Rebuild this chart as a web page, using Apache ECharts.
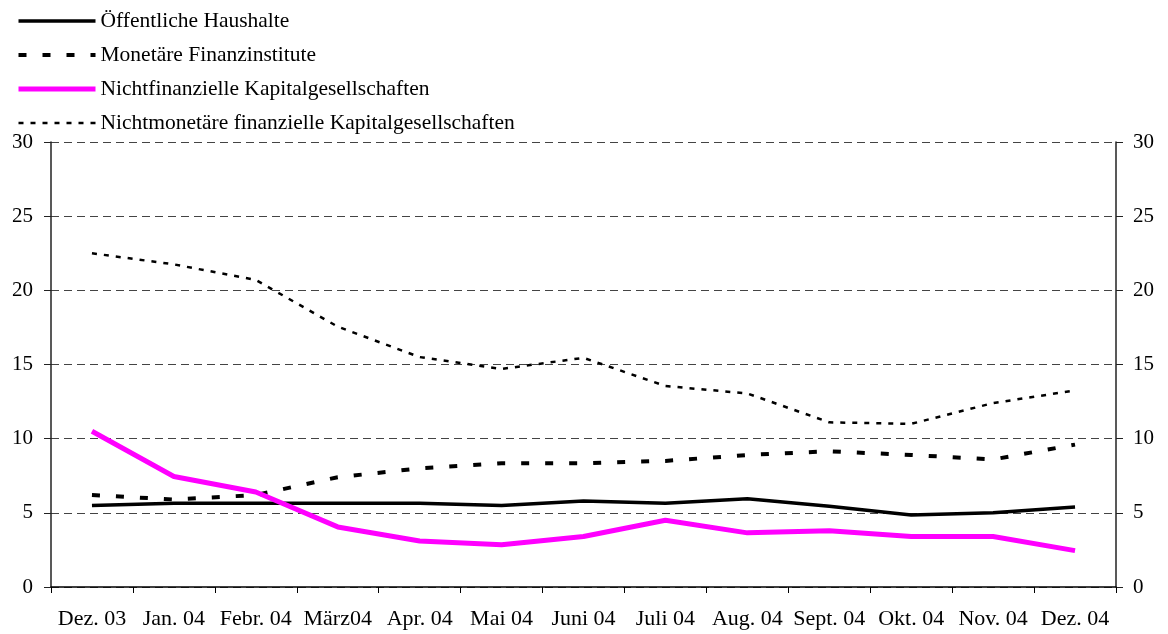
<!DOCTYPE html>
<html>
<head>
<meta charset="utf-8">
<script src="https://cdn.jsdelivr.net/npm/echarts@6/dist/echarts.min.js"></script>
<style>
  html, body { margin: 0; padding: 0; background: #fff; }
  #chart { width: 1168px; height: 634px; }
</style>
</head>
<body>
<div id="chart"></div>
<script>
var months = ["Dez. 03", "Jan. 04", "Febr. 04", "März04", "Apr. 04", "Mai 04", "Juni 04",
  "Juli 04", "Aug. 04", "Sept. 04", "Okt. 04", "Nov. 04", "Dez. 04"];

var oeffentlicheHaushalte = [5.5, 5.65, 5.65, 5.65, 5.65, 5.5, 5.8, 5.65, 5.95, 5.45, 4.85, 5.0, 5.4];
var monetaereFinanzinstitute = [6.2, 5.9, 6.2, 7.4, 8.0, 8.35, 8.35, 8.5, 8.9, 9.15, 8.9, 8.6, 9.6];
var nichtfinKapitalges = [10.5, 7.45, 6.4, 4.05, 3.1, 2.85, 3.4, 4.5, 3.65, 3.8, 3.4, 3.4, 2.45];
var nichtmonFinKapitalges = [22.5, 21.75, 20.7, 17.55, 15.5, 14.7, 15.45, 13.55, 13.05, 11.1, 11.0, 12.4, 13.25];

var yTicks = [0, 5, 10, 15, 20, 25, 30];

var serifFont = "Liberation Serif";

// line looks, shared by series and legend
var styleHaushalte = { color: "#000", width: 3.5, type: "solid" };
var styleMonetaer = { color: "#000", width: 4, type: [8, 16] };
var styleNichtfin = { color: "#ff00ff", width: 5, type: "solid" };
var styleNichtmon = { color: "#000", width: 2.5, type: [5, 7] };

var myChart = echarts.init(document.getElementById("chart"));

var option = {
  animation: false,
  textStyle: { fontFamily: serifFont, color: "#000" },
  legend: {
    orient: "vertical",
    left: 16,
    top: 10,
    padding: 0,
    itemWidth: 77,
    itemHeight: 14,
    itemGap: 12,
    itemStyle: { opacity: 0 },
    textStyle: { fontFamily: serifFont, fontSize: 21.5, color: "#000", lineHeight: 20 },
    data: [
      { name: "Öffentliche Haushalte", lineStyle: styleHaushalte },
      { name: "Monetäre Finanzinstitute", lineStyle: styleMonetaer },
      { name: "Nichtfinanzielle Kapitalgesellschaften", lineStyle: styleNichtfin },
      { name: "Nichtmonetäre finanzielle Kapitalgesellschaften", lineStyle: styleNichtmon }
    ]
  },
  grid: {
    left: 51,
    right: 52,
    top: 142,
    bottom: 47,
    containLabel: false
  },
  xAxis: {
    type: "category",
    data: months,
    boundaryGap: true,
    axisLine: { lineStyle: { color: "#000", width: 1.5 } },
    axisTick: { show: true, length: 6, alignWithLabel: false, lineStyle: { color: "#000", width: 1 } },
    axisLabel: { interval: 0, margin: 21, fontFamily: serifFont, fontSize: 22, color: "#000" }
  },
  yAxis: [
    {
      type: "value",
      min: yTicks[0],
      max: yTicks[yTicks.length - 1],
      interval: 5,
      position: "left",
      axisLine: { show: true, lineStyle: { color: "#222", width: 1.5 } },
      axisTick: { show: true, length: 7, lineStyle: { color: "#222" } },
      axisLabel: { margin: 18, fontFamily: serifFont, fontSize: 21, color: "#000" },
      splitLine: { show: true, lineStyle: { color: "#444", width: 1, type: [8, 5] } }
    },
    {
      type: "value",
      min: yTicks[0],
      max: yTicks[yTicks.length - 1],
      interval: 5,
      position: "right",
      axisLine: { show: true, lineStyle: { color: "#222", width: 1.5 } },
      axisTick: { show: true, length: 7, lineStyle: { color: "#222" } },
      axisLabel: { margin: 17, fontFamily: serifFont, fontSize: 21, color: "#000" },
      splitLine: { show: false }
    }
  ],
  series: [
    {
      name: "Öffentliche Haushalte",
      type: "line",
      symbol: "none",
      data: oeffentlicheHaushalte,
      color: "#000",
      lineStyle: styleHaushalte,
      z: 3
    },
    {
      name: "Monetäre Finanzinstitute",
      type: "line",
      symbol: "none",
      data: monetaereFinanzinstitute,
      color: "#000",
      lineStyle: styleMonetaer,
      z: 3
    },
    {
      name: "Nichtfinanzielle Kapitalgesellschaften",
      type: "line",
      symbol: "none",
      data: nichtfinKapitalges,
      color: "#ff00ff",
      lineStyle: styleNichtfin,
      z: 5
    },
    {
      name: "Nichtmonetäre finanzielle Kapitalgesellschaften",
      type: "line",
      symbol: "none",
      data: nichtmonFinKapitalges,
      color: "#000",
      lineStyle: styleNichtmon,
      z: 3
    }
  ]
};

myChart.setOption(option);
</script>
</body>
</html>
